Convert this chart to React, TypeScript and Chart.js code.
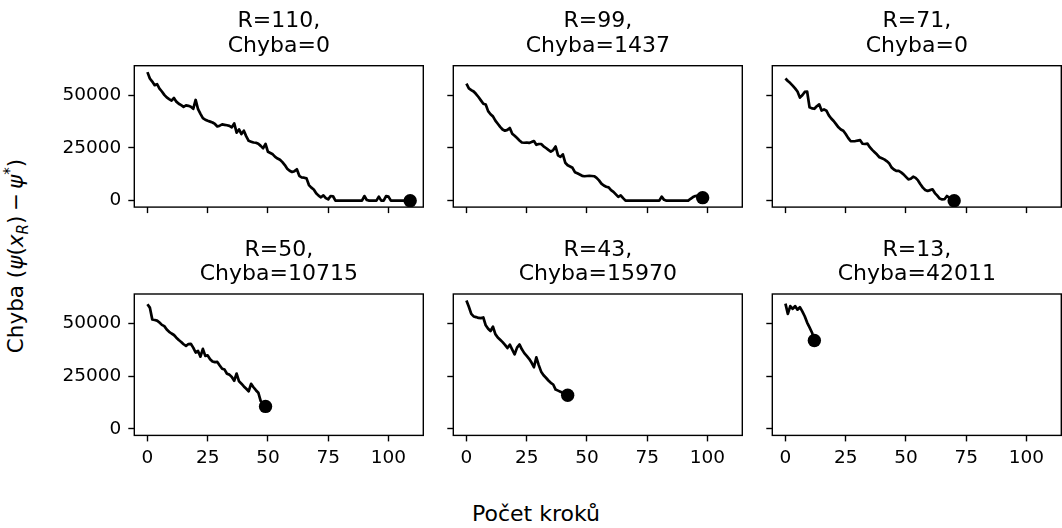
import React, { useEffect, useRef } from 'react';
import { Chart, registerables } from 'chart.js';

Chart.register(...registerables);

// ---- data ----
const STEPS_R110 = [
  61000, 58000, 56500, 54800, 55300, 53200, 51800, 50200, 49000, 48200,
  47500, 48700, 47000, 46000, 45300, 44500, 45200, 45000, 44600, 43600,
  47800, 43400, 41200, 39200, 38400, 37900, 37500, 37100, 36400, 35200,
  35600, 36200, 36000, 35800, 35500, 34800, 36700, 32300, 33800, 31600,
  33200, 30500, 28400, 28000, 27600, 27500, 27000, 26000, 24900, 26900,
  23200, 22600, 22000, 20800, 20000, 19400, 18300, 16900, 15200, 14200,
  13600, 14000, 14900, 11800, 11000, 10900, 10600, 7400, 6200, 5300,
  3500, 2400, 1600, 2500, 1200, 600, 2200, 2100, 0, 0,
  0, 0, 0, 0, 0, 0, 0, 0, 0, 0,
  2200, 300, 0, 0, 0, 0, 1900, 0, 0, 2200,
  1900, 0, 0, 0, 0, 0, 0, 0, 0, 0,
];

const STEPS_R99 = [
  55500, 53300, 52500, 51800, 50600, 49200, 47600, 46000, 45600, 42500,
  41000, 40000, 38000, 36500, 35000, 33800, 33200, 33600, 34500, 31800,
  30800, 29700, 28600, 27600, 27500, 27600, 27400, 27800, 28300, 26500,
  26900, 26900, 25800, 25000, 24100, 23300, 24000, 25700, 21500, 20800,
  22000, 18000, 16800, 16200, 15600, 13500, 13000, 12400, 11800, 11600,
  11700, 11800, 11700, 11600, 10800, 9600, 8100, 7200, 6600, 6300,
  5000, 4200, 3000, 1800, 2500, 1200, 0, 0, 0, 0,
  0, 0, 0, 0, 0, 0, 0, 0, 0, 0,
  0, 1900, 400, 0, 0, 0, 0, 0, 0, 0,
  0, 0, 0, 900, 1700, 2200, 2400, 1900, 1437,
];

const STEPS_R71 = [
  58000, 56800, 55800, 54600, 53300, 51800, 48900, 50000, 51600, 51800,
  44300, 43800, 43600, 44800, 45700, 42800, 43300, 42700, 40500, 39000,
  37800, 36300, 34800, 33800, 33200, 31600, 29800, 28300, 28200, 28300,
  28500, 28700, 27000, 26900, 27100, 25400, 24100, 23000, 21900, 20600,
  20100, 19600, 18800, 17800, 15800, 14800, 14100, 14100, 13400, 12500,
  11300, 10100, 10400, 11400, 10800, 9600, 7800, 6200, 5100, 4600,
  5000, 5400, 3600, 2400, 1000, 600, 700, 2200, 1400, 600,
  0,
];

const STEPS_R50 = [
  59200, 57600, 52000, 51700, 51400, 50500, 49400, 48800, 47200, 46100,
  45300, 44600, 43300, 42200, 41300, 40200, 39400, 40300, 40400, 38600,
  36300, 37000, 34300, 38000, 34700, 34900, 33100, 32000, 31700, 31800,
  30100, 28600, 28200, 26200, 25800, 24700, 22900, 26300, 22600, 21500,
  20200, 19100, 17900, 21400, 19800, 18400, 17200, 13200, 12000, 10715,
];

const STEPS_R43 = [
  61000, 58000, 54600, 53400, 53100, 52700, 52600, 52900, 49200, 47600,
  46500, 48500, 45000, 43400, 42300, 41200, 39900, 38400, 40000, 37700,
  35400, 38600, 40100, 37800, 36000, 34700, 33300, 31500, 29300, 34000,
  30300, 27200, 25500, 24300, 23000, 21900, 21100, 18700, 18200, 17700,
  17000, 16500, 15970,
];

const STEPS_R13 = [
  59500, 54600, 58300, 57000, 58300, 56600, 57800, 55800, 53500, 50500,
  48200, 45800, 42011,
];

const PANEL_SERIES = [STEPS_R110, STEPS_R99, STEPS_R71, STEPS_R50, STEPS_R43, STEPS_R13];
const PANEL_R = [110, 99, 71, 50, 43, 13];
const PANEL_CHYBA = [0, 1437, 0, 10715, 15970, 42011];

const X_TICKS = [0, 25, 50, 75, 100];
const Y_TICKS = [0, 25000, 50000];
const X_LIMITS = [-5.45, 114.45];
const Y_LIMITS = [-3050, 64050];

// ---- layout ----
const COL_LEFT = [134.3, 453.3, 772.3];
const ROW_TOP = [65.7, 294];
const PLOT_W = 291.7;
const PLOT_H = 141.4;
const FONT = '"DejaVu Sans", sans-serif';
const TITLE_SIZE = 22;
const TITLE_LH = 24.7;
const TICK_SIZE = 18.5;

const spinesPlugin = {
  id: 'spines',
  afterDatasetsDraw(chart: any) {
    const { ctx, chartArea: a } = chart;
    ctx.save();
    ctx.strokeStyle = '#000';
    ctx.lineWidth = 1.4;
    ctx.strokeRect(a.left, a.top, a.right - a.left, a.bottom - a.top);
    ctx.restore();
  },
};

function Panel({ idx }: { idx: number }) {
  const ref = useRef<HTMLCanvasElement>(null);
  const row = Math.floor(idx / 3);
  const col = idx % 3;
  const plotLeft = COL_LEFT[col];
  const plotTop = ROW_TOP[row];
  const canvasLeft = Math.round(plotLeft) - 80;
  const canvasTop = row === 0 ? 0 : 228;
  const yW = plotLeft - canvasLeft;
  const chartTop = plotTop - canvasTop;
  const canvasW = Math.ceil(yW + PLOT_W) + 4;
  const canvasH = 252;
  const xH = canvasH - chartTop - PLOT_H;
  const rightPad = canvasW - yW - PLOT_W;
  const line1Mid = 21.7 + (plotTop - ROW_TOP[0]) - canvasTop;
  const padTop = line1Mid - TITLE_LH / 2;
  const padBottom = chartTop - padTop - 2 * TITLE_LH;

  useEffect(() => {
    const values = PANEL_SERIES[idx];
    const last = values.length - 1;
    const chart = new Chart(ref.current as HTMLCanvasElement, {
      type: 'line',
      data: {
        datasets: [
          {
            data: values.map((v, i) => ({ x: i, y: v })),
            borderColor: '#000',
            borderWidth: 2.7,
            borderJoinStyle: 'round',
            pointRadius: values.map((_, i) => (i === last ? 6.7 : 0)),
            pointBackgroundColor: '#000',
            pointBorderColor: '#000',
            pointBorderWidth: 0,
            tension: 0,
            fill: false,
          } as any,
        ],
      },
      options: {
        animation: false,
        responsive: false,
        devicePixelRatio: 1,
        layout: { padding: { left: 0, right: rightPad, top: 0, bottom: 0 } },
        plugins: {
          legend: { display: false },
          tooltip: { enabled: false },
          title: {
            display: true,
            fullSize: false,
            text: [`R=${PANEL_R[idx]},`, `Chyba=${PANEL_CHYBA[idx]}`],
            color: '#000',
            font: { family: FONT, size: TITLE_SIZE, weight: 'normal', lineHeight: TITLE_LH / TITLE_SIZE },
            padding: { top: padTop, bottom: padBottom },
          },
        },
        scales: {
          x: {
            type: 'linear',
            min: X_LIMITS[0],
            max: X_LIMITS[1],
            afterBuildTicks: (s: any) => {
              s.ticks = X_TICKS.map((v) => ({ value: v }));
            },
            afterFit: (s: any) => {
              s.height = xH;
            },
            grid: {
              display: true,
              drawOnChartArea: false,
              drawTicks: true,
              tickLength: 6,
              tickWidth: 1.4,
              tickColor: '#000',
              color: '#000',
            },
            border: { display: false },
            ticks: {
              display: row === 1,
              padding: 6,
              color: '#000',
              maxRotation: 0,
              autoSkip: false,
              font: { family: FONT, size: TICK_SIZE },
              callback: (v: any) => String(v),
            },
          },
          y: {
            type: 'linear',
            min: Y_LIMITS[0],
            max: Y_LIMITS[1],
            afterBuildTicks: (s: any) => {
              s.ticks = Y_TICKS.map((v) => ({ value: v }));
            },
            afterFit: (s: any) => {
              s.width = yW;
            },
            grid: {
              display: true,
              drawOnChartArea: false,
              drawTicks: true,
              tickLength: 6,
              tickWidth: 1.4,
              tickColor: '#000',
              color: '#000',
            },
            border: { display: false },
            ticks: {
              display: col === 0,
              padding: 7,
              color: '#000',
              autoSkip: false,
              font: { family: FONT, size: TICK_SIZE },
              callback: (v: any) => String(v),
            },
          },
        },
      } as any,
      plugins: [spinesPlugin],
    });
    return () => chart.destroy();
  }, []);

  return (
    <canvas
      ref={ref}
      width={canvasW}
      height={canvasH}
      style={{ position: 'absolute', left: canvasLeft, top: canvasTop, width: canvasW, height: canvasH }}
    />
  );
}

export default function App() {
  return (
    <div
      style={{
        position: 'fixed',
        left: 0,
        top: 0,
        width: 1062,
        height: 528,
        overflow: 'hidden',
        background: '#fff',
        fontFamily: FONT,
        color: '#000',
      }}
    >
      {PANEL_SERIES.map((_, i) => (
        <Panel key={i} idx={i} />
      ))}
      <div
        style={{
          position: 'absolute',
          left: 336,
          width: 400,
          top: 501.3,
          textAlign: 'center',
          fontSize: TITLE_SIZE,
          lineHeight: '25.6px',
          whiteSpace: 'nowrap',
        }}
      >
        Počet kroků
      </div>
      <div
        style={{
          position: 'absolute',
          left: 17.4,
          top: 256,
          transform: 'translate(-50%, -50%) rotate(-90deg)',
          fontSize: 21.5,
          lineHeight: '25px',
          whiteSpace: 'nowrap',
        }}
      >
        Chyba (<i>ψ</i>(<i>x</i>
        <span style={{ fontSize: '0.7em', position: 'relative', top: '0.3em', fontStyle: 'italic' }}>R</span>)
        {'\u2009−\u2009'}
        <i>ψ</i>
        <span style={{ fontSize: '0.7em', position: 'relative', top: '-0.5em' }}>*</span>)
      </div>
    </div>
  );
}
